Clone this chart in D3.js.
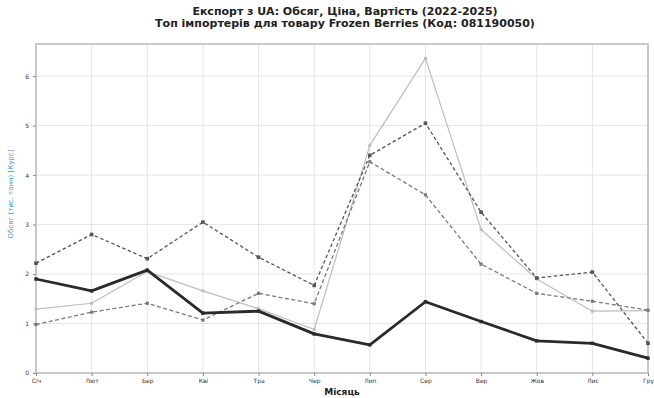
<!DOCTYPE html>
<html><head><meta charset="utf-8">
<script src="https://cdn.jsdelivr.net/npm/d3@7"></script>
<style>body{margin:0;background:#fff}svg{display:block;font-family:"DejaVu Sans",sans-serif}</style>
</head><body><svg id="c" width="654" height="398"></svg>
<script>
const months = ["Січ","Лют","Бер","Кві","Тра","Чер","Лип","Сер","Вер","Жов","Лис","Гру"];
const yTicks = [0,1,2,3,4,5,6];
const seriesThick = [1.90,1.66,2.08,1.21,1.25,0.79,0.57,1.44,1.04,0.65,0.60,0.30];
const seriesDashed = [2.22,2.80,2.31,3.05,2.34,1.77,4.40,5.05,3.25,1.92,2.04,0.60];
const seriesDashDot = [0.98,1.23,1.41,1.07,1.61,1.40,4.27,3.60,2.20,1.61,1.45,1.27];
const seriesLight = [1.29,1.41,2.05,1.66,1.30,0.88,4.60,6.36,2.90,1.90,1.25,1.26];
const titleLines = ["Експорт з UA: Обсяг, Ціна, Вартість (2022-2025)","Топ імпортерів для товару Frozen Berries (Код: 081190050)"];
const xLabel = "Місяць";
const yLabel = "Обсяг (тис. тонн) [Курс]";

const svg = d3.select("#c");
const m = {l:36, r:648, t:44, b:373};
const x = d3.scalePoint().domain(months).range([m.l, m.r]);
const y = d3.scaleLinear().domain([0, 6.65]).range([m.b, m.t]);

// grid
svg.append("g").selectAll("line").data(months).join("line")
  .attr("x1", d=>x(d)).attr("x2", d=>x(d)).attr("y1", m.t).attr("y2", m.b)
  .attr("stroke", "#e4e4e4").attr("stroke-width", 1);
svg.append("g").selectAll("line").data(yTicks).join("line")
  .attr("x1", m.l).attr("x2", m.r).attr("y1", d=>y(d)).attr("y2", d=>y(d))
  .attr("stroke", "#e4e4e4").attr("stroke-width", 1);

// frame
svg.append("rect").attr("x", m.l).attr("y", m.t).attr("width", m.r-m.l).attr("height", m.b-m.t)
  .attr("fill","none").attr("stroke","#c4c4c4").attr("stroke-width",1.8);

// axes
const xa = svg.append("g").attr("transform", `translate(0,${m.b})`)
  .call(d3.axisBottom(x).tickSize(3).tickPadding(3));
const ya = svg.append("g").attr("transform", `translate(${m.l},0)`)
  .call(d3.axisLeft(y).tickValues(yTicks).tickFormat(d3.format("d")).tickSize(3).tickPadding(4));
[xa, ya].forEach(a => {
  a.select(".domain").remove();
  a.selectAll(".tick line").attr("stroke", "#888");
  a.selectAll("text").attr("font-size", 6).attr("fill", "#333").attr("font-family", "DejaVu Sans");
});

const line = d3.line().x((d,i)=>x(months[i])).y(d=>y(d));
const defs = [
  {data: seriesLight, color:"#bdbdbd", w:1.2, dash:null, ms:3},
  {data: seriesDashDot, color:"#7a7a7a", w:1.3, dash:"4,2.5", ms:3.2},
  {data: seriesDashed, color:"#555", w:1.3, dash:"3.5,2.5", ms:3.6},
  {data: seriesThick, color:"#2a2a2a", w:2.8, dash:null, ms:3.4}
];
defs.forEach(s => {
  svg.append("path").datum(s.data).attr("d", line).attr("fill","none")
    .attr("stroke", s.color).attr("stroke-width", s.w)
    .attr("stroke-dasharray", s.dash).attr("stroke-linejoin","round");
  svg.append("g").selectAll("rect").data(s.data).join("rect")
    .attr("x", (d,i)=>x(months[i]) - s.ms/2).attr("y", d=>y(d) - s.ms/2)
    .attr("width", s.ms).attr("height", s.ms).attr("fill", s.color);
});

// titles
svg.append("g").selectAll("text").data(titleLines).join("text")
  .attr("x", 345).attr("y", (d,i)=>15 + i*12).attr("text-anchor","middle")
  .attr("font-size", 11).attr("font-weight","bold").attr("fill","#222").text(d=>d);
svg.append("text").attr("x", (m.l+m.r)/2).attr("y", 395).attr("text-anchor","middle")
  .attr("font-size", 9).attr("font-weight","bold").attr("fill","#222").text(xLabel);
svg.append("text").attr("transform", `translate(13,194) rotate(-90)`)
  .attr("text-anchor","middle").attr("font-size", 7).attr("fill","#3d8fd6").text(yLabel);
</script></body></html>
